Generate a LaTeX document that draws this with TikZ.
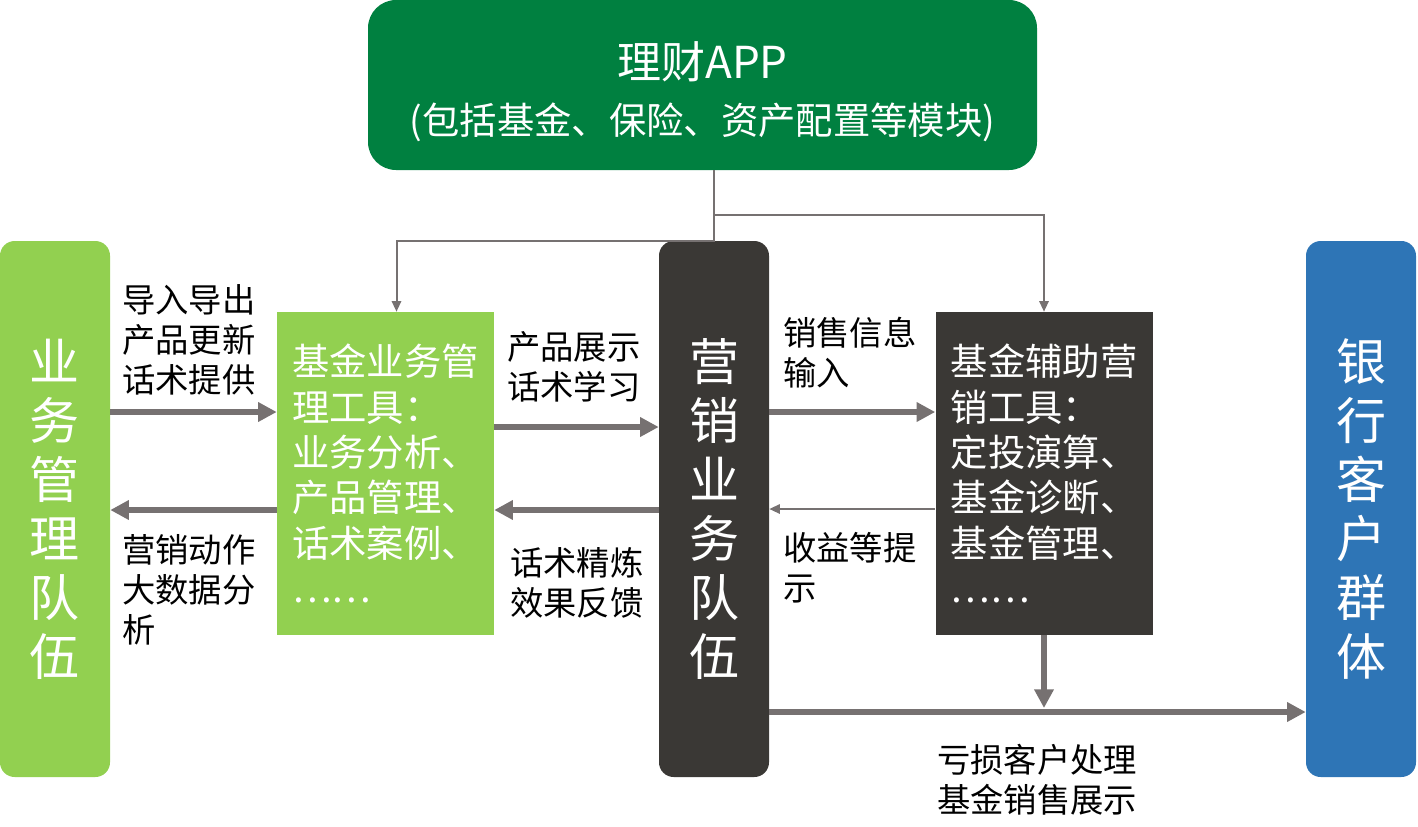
\documentclass[tikz,border=0pt]{standalone}
\usepackage{fontspec}
\setmainfont{Noto Sans CJK SC}
\usetikzlibrary{positioning, calc, arrows.meta}
\definecolor{appgreen}{RGB}{0,128,64}
\definecolor{leafgreen}{RGB}{146,208,80}
\definecolor{charcoal}{RGB}{58,56,53}
\definecolor{bankblue}{RGB}{46,117,182}
\definecolor{linegray}{RGB}{118,113,113}

\begin{document}
\begin{tikzpicture}[x=0.75pt, y=-0.75pt,
  pillar/.style={fill=#1, rounded corners=11pt, minimum width=82.5pt, minimum height=402pt, text=white, align=center, inner sep=0pt, font=\fontsize{37.5pt}{44.25pt}\selectfont},
  toolbox/.style={fill=#1, minimum width=162.75pt, minimum height=242.25pt, text=white, align=left, inner sep=0pt, font=\fontsize{28pt}{34pt}\selectfont},
  tag/.style={anchor=west, align=left, inner sep=0pt, font=\fontsize{25pt}{30pt}\selectfont},
  thickarrow/.style={draw=linegray, line width=4.5pt, -{Triangle[length=14pt,width=14pt]}},
  thinarrow/.style={draw=linegray, line width=1.5pt, -{Triangle[length=8pt,width=7pt]}}]
  \useasboundingbox (0,0) rectangle (1418,826);
  \node[fill=appgreen, rounded corners=21pt, minimum width=501.75pt, minimum height=127.5pt, text=white, align=center, inner sep=0pt, font=\fontsize{28pt}{42pt}\selectfont] (app) at (702.5,85) {\rule{0pt}{38pt}{\fontsize{33pt}{42pt}\selectfont 理财APP}\\(包括基金、保险、资产配置等模块)};
  \node[pillar=leafgreen] (lead) at (55,509) {业\\务\\管\\理\\队\\伍};
  \node[pillar=charcoal] (sales) at (714,509) {营\\销\\业\\务\\队\\伍};
  \node[pillar=bankblue] (client) at (1361,509) {银\\行\\客\\户\\群\\体};
  \node[toolbox=leafgreen] (mgmt) at (385.5,473.5) {基金业务管\\理工具：\\业务分析、\\产品管理、\\话术案例、\\……};
  \node[toolbox=charcoal] (assist) at (1044,473.5) {基金辅助营\\销工具：\\定投演算、\\基金诊断、\\基金管理、\\……};
  \coordinate (split) at ($(app.south -| sales.north)+(0,45)$);
  \draw[thinarrow] (app.south -| sales.north) -- (sales.north) -| ([xshift=8.25pt]mgmt.north);
  \draw[thinarrow] (split) -| (assist.north);
  \draw[thickarrow] (lead.east |- 0,412) -- (mgmt.west |- 0,412);
  \draw[thickarrow] (mgmt.west |- 0,510) -- (lead.east |- 0,510);
  \draw[thickarrow] (mgmt.east |- 0,427) -- (sales.west |- 0,427);
  \draw[thickarrow] (sales.west |- 0,510) -- (mgmt.east |- 0,510);
  \draw[thickarrow] (sales.east |- 0,412) -- (assist.west |- 0,412);
  \draw[thinarrow] (assist.west |- 0,509) -- (sales.east |- 0,509);
  \draw[thickarrow] (assist.south) -- (assist.south |- 0,708);
  \draw[thickarrow] (sales.east |- 0,712) -- (client.west |- 0,712);
  \node[tag] (importTag) at (122,340) {导入导出\\产品更新\\话术提供};
  \node[tag] (actionTag) at (122,590) {营销动作\\大数据分\\析};
  \node[tag] (showTag) at (507,367) {产品展示\\话术学习};
  \node[tag] (refineTag) at (510,583) {话术精炼\\效果反馈};
  \node[tag] (inputTag) at (783,353) {销售信息\\输入};
  \node[tag] (gainTag) at (783,568) {收益等提\\示};
  \node[tag] (lossTag) at (937,780) {亏损客户处理\\基金销售展示};
\end{tikzpicture}
\end{document}
